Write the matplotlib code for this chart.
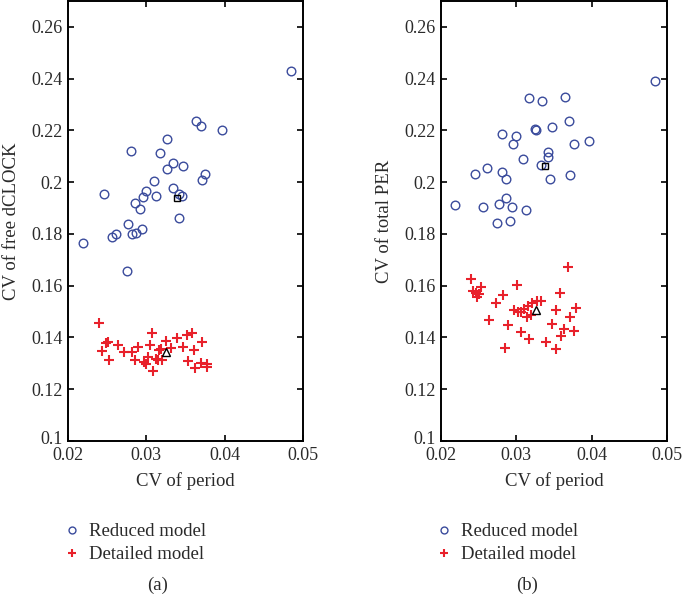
import numpy as np
import matplotlib
matplotlib.use("Agg")
import matplotlib.pyplot as plt
from matplotlib.ticker import FuncFormatter
from matplotlib.transforms import ScaledTranslation

plt.rcParams['font.family'] = ['Liberation Serif', 'DejaVu Serif']

# Panel (a): CV of period vs CV of free dCLOCK
red_a_x = [0.0485, 0.0364, 0.03704, 0.03963, 0.03264, 0.0281, 0.0318, 0.03341, 0.03465,
           0.0326, 0.03755, 0.03711, 0.03098, 0.02996, 0.02958, 0.03129, 0.03337, 0.03418,
           0.03461, 0.02856, 0.02925, 0.03423, 0.02771, 0.0295, 0.02865, 0.02822, 0.02609,
           0.02567, 0.02455, 0.02191, 0.02749]
red_a_y = [0.2428, 0.2238, 0.2218, 0.2203, 0.2167, 0.2119, 0.2113, 0.2074, 0.2062,
           0.2049, 0.2033, 0.2008, 0.2005, 0.1965, 0.1941, 0.1946, 0.1976, 0.1956,
           0.1946, 0.1918, 0.1897, 0.1863, 0.1838, 0.1819, 0.1805, 0.1800, 0.1799,
           0.1790, 0.1953, 0.1764, 0.1655]
det_a_x = [0.02396, 0.0249, 0.0251, 0.02434, 0.02524, 0.02639, 0.02715, 0.02822, 0.02894,
           0.02852, 0.03073, 0.03052, 0.02971, 0.03001, 0.03022, 0.03091, 0.03158, 0.0315,
           0.03206, 0.03193, 0.03248, 0.0332, 0.03397, 0.03474, 0.03525, 0.03584, 0.03605,
           0.03533, 0.03618, 0.03711, 0.03695, 0.03775, 0.0378, 0.03129]
det_a_y = [0.1457, 0.1378, 0.1382, 0.1347, 0.1313, 0.1372, 0.1344, 0.1344, 0.1365,
           0.1314, 0.1418, 0.1369, 0.1305, 0.1299, 0.1324, 0.1269, 0.1350, 0.1314,
           0.1314, 0.1357, 0.1388, 0.1359, 0.1397, 0.1363, 0.1410, 0.1418, 0.1351,
           0.1308, 0.1282, 0.1382, 0.1303, 0.1299, 0.1286, 0.1318]
mean_red_a = (0.03388, 0.1938)
mean_det_a = (0.03257, 0.1343)

# Panel (b): CV of period vs CV of total PER
red_b_x = [0.03174, 0.03339, 0.0364, 0.03693, 0.03252, 0.03265, 0.03467, 0.02807, 0.03002,
           0.02953, 0.03759, 0.03959, 0.03095, 0.03414, 0.03423, 0.03325, 0.03453, 0.03706,
           0.02452, 0.02607, 0.02815, 0.0286, 0.02554, 0.02771, 0.0286, 0.02944, 0.0313,
           0.02749, 0.02922, 0.0219, 0.04844]
red_b_y = [0.2324, 0.2315, 0.2328, 0.2238, 0.2206, 0.2202, 0.2212, 0.2186, 0.2177,
           0.2149, 0.2149, 0.2158, 0.2091, 0.2117, 0.2096, 0.2065, 0.2014, 0.2026,
           0.2033, 0.2054, 0.2040, 0.2012, 0.1905, 0.1917, 0.1937, 0.1904, 0.1893,
           0.1842, 0.1849, 0.1911, 0.2390]
det_b_x = [0.0368, 0.02399, 0.0243, 0.02465, 0.02509, 0.02528, 0.02483, 0.03011, 0.0282,
           0.02727, 0.03578, 0.02643, 0.02895, 0.02851, 0.02971, 0.0302, 0.0306, 0.03104,
           0.03153, 0.03206, 0.03273, 0.0333, 0.03148, 0.03193, 0.0306, 0.0317, 0.03396,
           0.03529, 0.03476, 0.0352, 0.03715, 0.03786, 0.03636, 0.03596, 0.03769]
det_b_y = [0.1673, 0.1624, 0.1581, 0.1570, 0.1568, 0.1596, 0.1558, 0.1601, 0.1563,
           0.1535, 0.1572, 0.1468, 0.1450, 0.1359, 0.1506, 0.1500, 0.1497, 0.1510,
           0.1523, 0.1533, 0.1540, 0.1540, 0.1478, 0.1488, 0.1423, 0.1393, 0.1382,
           0.1506, 0.1453, 0.1354, 0.1481, 0.1514, 0.1433, 0.1404, 0.1424]
mean_red_b = (0.03387, 0.2062)
mean_det_b = (0.03263, 0.1508)

xticks = [0.02, 0.03, 0.04, 0.05]
yticks = [0.1, 0.12, 0.14, 0.16, 0.18, 0.2, 0.22, 0.24, 0.26]

blue = '#3a4b9c'
red = '#e8212b'
txt = '#2a2a2a'

W, H = 685, 596
fig = plt.figure(figsize=(W / 100, H / 100), dpi=100)

def frac(x0, y0, x1, y1):
    return [x0 / W, 1 - y1 / H, (x1 - x0) / W, (y1 - y0) / H]

panels = [
    (frac(68, 1, 303, 441), red_a_x, red_a_y, det_a_x, det_a_y, mean_red_a, mean_det_a,
     'CV of free dCLOCK', '(a)', 158, 63),
    (frac(441, 1, 667, 441), red_b_x, red_b_y, det_b_x, det_b_y, mean_red_b, mean_det_b,
     'CV of total PER', '(b)', 527, 435),
]

for rect, rx, ry, dx, dy, mr, md, ylab, tag, tagx, legx in panels:
    ax = fig.add_axes(rect)
    ax.plot(rx, ry, 'o', mfc='none', mec=blue, mew=1.0, ms=6.2, label='Reduced model')
    ax.plot(dx, dy, '+', color=red, mew=1.5, ms=7, label='Detailed model')
    ax.plot(*mr, 's', mfc='none', mec='black', mew=1.0, ms=5)
    ax.plot(*md, '^', mfc='none', mec='black', mew=1.0, ms=6)
    ax.set_xlim(0.02, 0.05)
    ax.set_ylim(0.1, 0.27)
    ax.set_xticks(xticks)
    ax.set_yticks(yticks)
    ax.xaxis.set_major_formatter(FuncFormatter(lambda v, p: '%g' % round(v, 3)))
    ax.yaxis.set_major_formatter(FuncFormatter(lambda v, p: '%g' % round(v, 3)))
    ax.tick_params(direction='in', top=True, right=True, length=4, width=1.2,
                   labelsize=13, labelcolor=txt, pad=4)
    for s in ax.spines.values():
        s.set_linewidth(1.4)
    # nudge the lowest y label up so it clears the first x label
    lbl = ax.get_yticklabels()[0]
    lbl.set_transform(lbl.get_transform() + ScaledTranslation(0, 4 / 100, fig.dpi_scale_trans))
    ax.set_xlabel('CV of period', fontsize=13.5, color=txt, labelpad=6)
    ax.set_ylabel(ylab, fontsize=13.5, color=txt, labelpad=8)
    ax.legend(loc='upper left', bbox_to_anchor=(legx / W, 1 - 523 / H),
              bbox_transform=fig.transFigure, frameon=False, fontsize=13.5,
              handlelength=1.0, handletextpad=0.4, borderpad=0, borderaxespad=0,
              labelspacing=0.32, markerscale=0.8, labelcolor=txt)
    fig.text(tagx / W, 1 - 585 / H, tag, ha='center', va='center', fontsize=13.5, color=txt)

fig.savefig('out.png', dpi=100)
